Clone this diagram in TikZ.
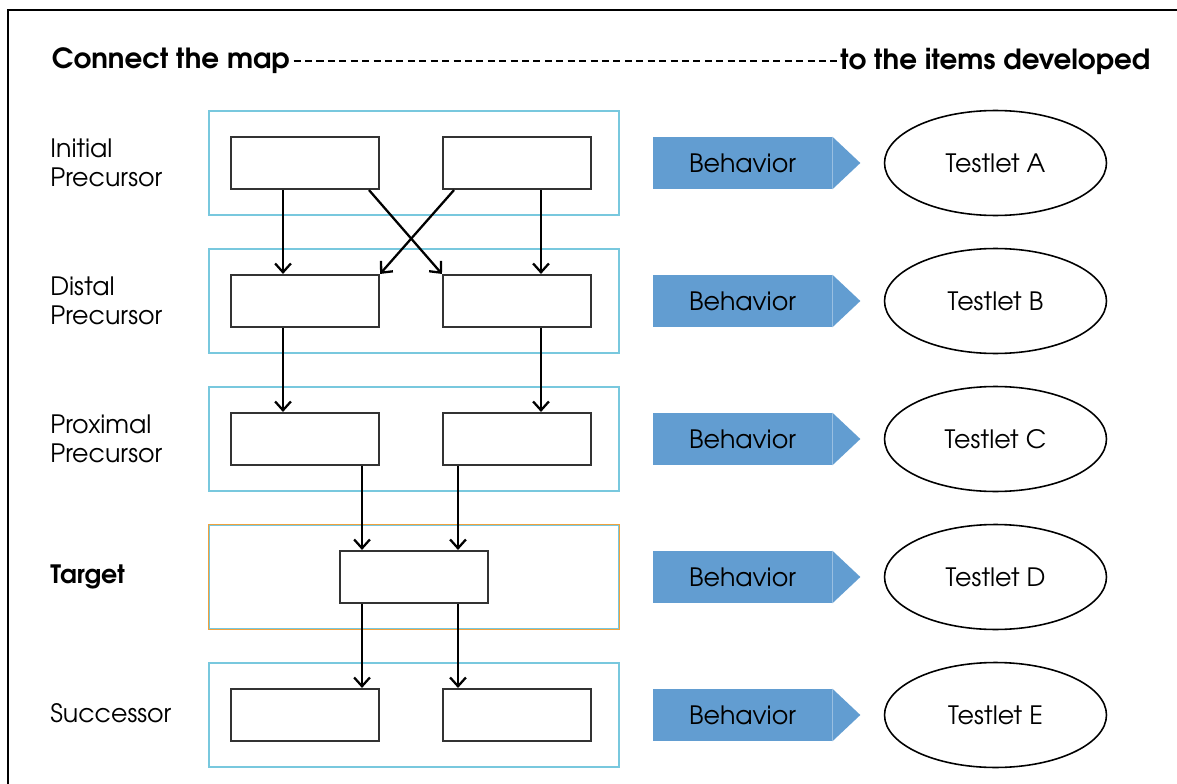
\documentclass[tikz,border=0pt]{standalone}
\usepackage{fontspec}
\setmainfont{texgyreadventor}[Extension=.otf,UprightFont=*-regular,BoldFont=*-bold]
\usetikzlibrary{positioning,arrows.meta,shapes.geometric}
\definecolor{bandblue}{RGB}{120,200,222}
\definecolor{bandorange}{RGB}{240,162,62}
\definecolor{behblue}{RGB}{98,157,209}

\begin{document}
\begin{tikzpicture}[x=0.02cm, y=-0.02cm,
	band/.style={draw=bandblue, line width=0.8pt, minimum width=8.2cm, minimum height=2.08cm, inner sep=0},
	box/.style={draw=black!80, line width=1.2pt, minimum width=2.96cm, minimum height=1.04cm, inner sep=0},
	beh/.style={fill=behblue, minimum width=3.58cm, minimum height=1.04cm, inner sep=0, font=\fontsize{14.4}{16}\selectfont},
	testlet/.style={draw, ellipse, line width=0.9pt, minimum width=4.44cm, minimum height=2.1cm, inner sep=0, font=\fontsize{14.4}{16}\selectfont},
	lbl/.style={anchor=west, align=left, inner sep=0, font=\fontsize{14.4}{16.5}\selectfont},
	head/.style={font=\bfseries\fontsize{15.8}{18}\selectfont, inner sep=2pt},
	link/.style={line width=1.3pt, -{Straight Barb[length=5pt,width=9pt]}}]
	\useasboundingbox (0,0) rectangle (1177,784);
	\draw[line width=1.2pt] (8,790) -- (8,10) -- (1180,10);

	% heading
	\node[head, anchor=west] (map) at (48,61) {Connect the map};
	\node[head, anchor=east] (items) at (1154,61) {to the items developed};
	\draw[dash pattern=on 4pt off 2.5pt, line width=0.6pt] (map.east) -- (items.west);

	% levels
	\foreach \n/\y/\t in {1/163/A, 2/301/B, 3/439/C, 4/577/D, 5/715/E} {
		\node[band] (band\n) at (414,\y) {};
		\node[beh] (beh\n) at (742.5,\y) {Behavior};
		\fill[behblue] (beh\n.north east) -- ([xshift=0.56cm]beh\n.east) -- (beh\n.south east) -- cycle;
		\node[testlet] (test\n) at (995.5,\y) {Testlet \t};
	}
	\draw[bandorange, line width=0.9pt] (band4.north west) rectangle (band4.south east);
	\foreach \n/\y in {1/163, 2/301, 3/439, 5/715} {
		\node[box] (left\n) at (305,\y) {};
		\node[box] (right\n) at (517,\y) {};
	}
	\node[box] (target) at (414,577) {};

	\node[lbl] (initial) at (50,163) {Initial\\Precursor};
	\node[lbl] (distal) at (50,301) {Distal\\Precursor};
	\node[lbl] (proximal) at (50,439) {Proximal\\Precursor};
	\node[lbl, font=\bfseries\fontsize{14.4}{16.5}\selectfont] (tgtlbl) at (50,577) {Target};
	\node[lbl] (succ) at (50,713) {Successor};

	% links
	\draw[link] ([xshift=-0.44cm]left1.south) -- ([xshift=-0.44cm]left2.north);
	\draw[link] ([xshift=0.48cm]right1.south) -- ([xshift=0.48cm]right2.north);
	\draw[link] ([xshift=1.28cm]left1.south) -- (right2.north west);
	\draw[link] ([xshift=-1.26cm]right1.south) -- (left2.north east);
	\draw[link] ([xshift=-0.44cm]left2.south) -- ([xshift=-0.44cm]left3.north);
	\draw[link] ([xshift=0.48cm]right2.south) -- ([xshift=0.48cm]right3.north);
	\draw[link] ([xshift=-1.04cm]target.north |- left3.south) -- ([xshift=-1.04cm]target.north);
	\draw[link] ([xshift=0.88cm]target.north |- right3.south) -- ([xshift=0.88cm]target.north);
	\draw[link] ([xshift=-1.04cm]target.south) -- ([xshift=-1.04cm]target.south |- left5.north);
	\draw[link] ([xshift=0.88cm]target.south) -- ([xshift=0.88cm]target.south |- right5.north);
\end{tikzpicture}
\end{document}
